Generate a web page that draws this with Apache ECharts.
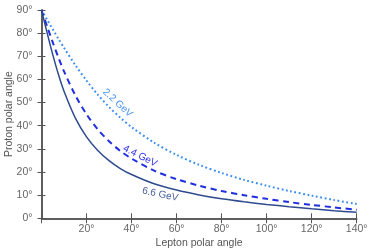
<!DOCTYPE html>
<html><head><meta charset="utf-8">
<script src="https://cdn.jsdelivr.net/npm/echarts@6/dist/echarts.min.js"></script>
<style>html,body{margin:0;padding:0;background:#fff}#c{width:374px;height:252px}</style>
</head><body><div id="c"></div>
<script>
var leptonAngle = [0,2.5,5,7.5,10,15,20,25,30,35,40,50,60,70,80,90,100,110,120,130,140];
var proton22 = [90,85.8,81.7,77.6,73.7,66.2,59.5,53.4,48.1,43.5,39.4,32.7,27.4,23.1,19.6,16.6,14.1,11.8,9.8,7.9,6.2];
var proton44 = [90,82.9,76.0,69.5,63.5,53.2,44.9,38.4,33.3,29.1,25.8,20.6,16.9,14.1,11.8,10.0,8.4,7.0,5.8,4.7,3.7];
var proton66 = [90,80.1,70.7,62.2,54.9,43.4,35.2,29.3,24.9,21.5,18.9,14.9,12.2,10.1,8.4,7.1,6.0,5.0,4.1,3.3,2.6];
var seriesNames = ['2.2 GeV','4.4 GeV','6.6 GeV'];
var labelAnchors = [[33.8,49.8],[43.8,26.9],[52.7,10.3]];
var labelRot = [-43,-27,-12];

var FONT = 'Liberation Sans';
var colors = ['#3a8cf5','#1f2ee0','#2f4b8f'];
var textColors = ['#4a92f0','#3434e8','#4a5f98'];
function pairs(ys){ return leptonAngle.map(function(x,i){return [x,ys[i]];}); }
var axisLine = {show:true, lineStyle:{color:'#555', width:1.5}};
var chart = echarts.init(document.getElementById('c'), null, {renderer:'canvas'});
chart.setOption({
  animation:false,
  grid:{left:41.5, right:17.3, top:10, bottom:33.7, containLabel:false, outerBoundsMode:'none'},
  xAxis:[{
    type:'value', min:0, max:140, interval:20, position:'bottom',
    name:'Lepton polar angle', nameLocation:'middle', nameGap:19, nameMoveOverlap:false,
    nameTextStyle:{color:'#555', fontFamily:FONT, fontSize:10.5},
    axisLine:axisLine, axisTick:{show:true, inside:true, length:5, lineStyle:{color:'#555'}},
    axisLabel:{color:'#666', fontFamily:FONT, fontSize:10.5, margin:5,
      formatter:function(v){return v===0?'':v+'°';}},
    splitLine:{show:false}
  },{
    type:'value', min:0, max:140, interval:20, position:'top',
    axisLine:axisLine, axisTick:{show:true, inside:true, length:5, lineStyle:{color:'#555'}},
    axisLabel:{show:false}, splitLine:{show:false}
  }],
  yAxis:[{
    type:'value', min:0, max:90, interval:10, position:'left',
    name:'Proton polar angle', nameLocation:'middle', nameGap:27, nameRotate:90, nameMoveOverlap:false,
    nameTextStyle:{color:'#555', fontFamily:FONT, fontSize:10.5},
    axisLine:axisLine, axisTick:{show:true, inside:true, length:4, lineStyle:{color:'#555'}},
    axisLabel:{color:'#666', fontFamily:FONT, fontSize:10.5, margin:9,
      formatter:function(v){return v+'°';}},
    splitLine:{show:false}
  },{
    type:'value', min:0, max:90, interval:10, position:'right',
    axisLine:axisLine, axisTick:{show:true, inside:true, length:4, lineStyle:{color:'#555'}},
    axisLabel:{show:false}, splitLine:{show:false}
  }],
  series:[
    {name:seriesNames[0], type:'line', data:pairs(proton22), smooth:0.3, showSymbol:false,
      lineStyle:{color:colors[0], width:2, type:[1.8,2.6], cap:'butt'}},
    {name:seriesNames[1], type:'line', data:pairs(proton44), smooth:0.3, showSymbol:false,
      lineStyle:{color:colors[1], width:2, type:[6,4.5]}},
    {name:seriesNames[2], type:'line', data:pairs(proton66), smooth:0.3, showSymbol:false,
      lineStyle:{color:colors[2], width:1.5}}
  ]
});
var g = labelAnchors.map(function(a,i){
  var p = chart.convertToPixel({xAxisIndex:0,yAxisIndex:0}, a);
  return {type:'text', x:p[0], y:p[1], rotation:labelRot[i]*Math.PI/180,
    style:{text:seriesNames[i], fill:textColors[i], font:'10px "'+FONT+'"', align:'center', verticalAlign:'middle'}};
});
chart.setOption({graphic:g});
</script></body></html>
